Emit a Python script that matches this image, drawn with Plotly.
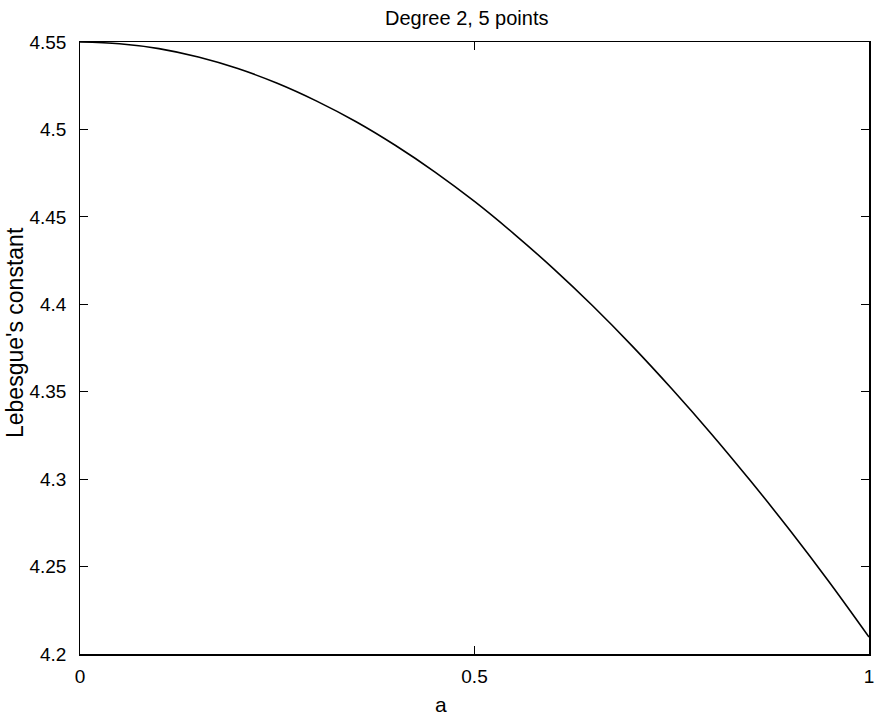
import plotly.graph_objects as go

# Data (Lebesgue's constant vs a)
a_values = [0.00, 0.05, 0.10, 0.15, 0.20, 0.25, 0.30, 0.35, 0.40, 0.45, 0.50,
            0.55, 0.60, 0.65, 0.70, 0.75, 0.80, 0.85, 0.90, 0.95, 1.00]
lebesgue_values = [4.5500, 4.5490, 4.5462, 4.5414, 4.5348, 4.5264, 4.5162, 4.5044,
                   4.4908, 4.4756, 4.4588, 4.4403, 4.4204, 4.3990, 4.3761, 4.3517,
                   4.3260, 4.2989, 4.2706, 4.2409, 4.2097]

x_tick_vals = [0, 0.5, 1]
x_tick_text = ["0", "0.5", "1"]
y_tick_vals = [4.2, 4.25, 4.3, 4.35, 4.4, 4.45, 4.5, 4.55]
y_tick_text = ["4.2", "4.25", "4.3", "4.35", "4.4", "4.45", "4.5", "4.55"]

title_text = "Degree 2, 5 points"
x_label = "a"
y_label = "Lebesgue's constant"

W, H = 875, 717
L, R, T, B = 80, 6, 42, 63
pw = W - L - R
ph = H - T - B

fig = go.Figure()
fig.add_trace(go.Scatter(x=a_values, y=lebesgue_values, mode="lines",
                         line=dict(color="black", width=1.6, shape="spline"),
                         showlegend=False, hoverinfo="skip"))

font = dict(family="Liberation Sans, Arial, sans-serif", color="black")

fig.update_layout(
    width=W, height=H,
    margin=dict(l=L, r=R, t=T, b=B, autoexpand=False),
    paper_bgcolor="white", plot_bgcolor="white",
    font=dict(size=19, **font),
    hovermode=False,
    xaxis=dict(range=[0, 1], tickvals=x_tick_vals, ticktext=x_tick_text,
               ticks="inside", ticklen=8, tickwidth=1, tickcolor="black",
               showline=True, linecolor="black", linewidth=1.5, mirror="ticks",
               showgrid=False, zeroline=False, automargin=False,
               ticklabelstandoff=5, tickfont=dict(size=19, **font)),
    yaxis=dict(range=[4.2, 4.55], tickvals=y_tick_vals,
               ticktext=[t + "\u00a0" for t in y_tick_text],
               ticks="inside", ticklen=8, tickwidth=1, tickcolor="black",
               showline=True, linecolor="black", linewidth=1.5, mirror="ticks",
               showgrid=False, zeroline=False, automargin=False,
               ticklabelstandoff=3, tickfont=dict(size=19, **font)),
    annotations=[
        dict(text=title_text, xref="paper", yref="paper",
             x=(466 - L) / pw, y=(H - B - 18) / ph, xanchor="center", yanchor="middle",
             showarrow=False, font=dict(size=20, **font)),
        dict(text=x_label, xref="paper", yref="paper",
             x=(441 - L) / pw, y=-(704 - (H - B)) / ph, xanchor="center", yanchor="middle",
             showarrow=False, font=dict(size=21, **font)),
        dict(text=y_label, xref="paper", yref="paper",
             x=(15 - L) / pw, y=(H - B - 333) / ph, xanchor="center", yanchor="middle",
             textangle=-90, showarrow=False, font=dict(size=23, **font)),
    ],
)

fig.write_html("out.html",
               config={"displayModeBar": False, "staticPlot": True},
               post_script="document.body.style.margin='0';document.body.style.overflow='hidden';")
